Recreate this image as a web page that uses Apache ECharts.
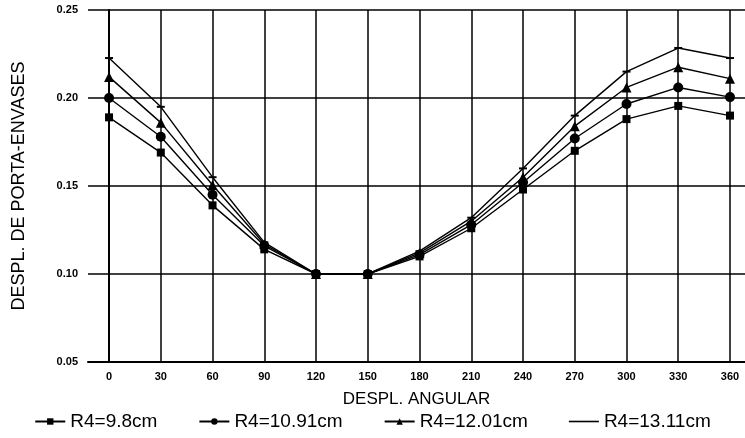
<!DOCTYPE html>
<html>
<head>
<meta charset="utf-8">
<script src="https://cdn.jsdelivr.net/npm/echarts@6/dist/echarts.min.js"></script>
<style>
  html, body { margin: 0; padding: 0; background: #fff; }
  #chart { width: 745px; height: 438px; }
</style>
</head>
<body>
<div id="chart"></div>
<script>
// angulos (grados)
var angles = [0, 30, 60, 90, 120, 150, 180, 210, 240, 270, 300, 330, 360];
var yTicks = [0.05, 0.10, 0.15, 0.20, 0.25];

var seriesNames = ['R4=9.8cm', 'R4=10.91cm', 'R4=12.01cm', 'R4=13.11cm'];
var r98 = [0.189, 0.169, 0.139, 0.114, 0.100, 0.100, 0.110, 0.126, 0.148, 0.170, 0.188, 0.1955, 0.190];
var r1091 = [0.200, 0.178, 0.145, 0.116, 0.100, 0.100, 0.111, 0.128, 0.152, 0.177, 0.1966, 0.206, 0.2005];
var r1201 = [0.212, 0.186, 0.1506, 0.117, 0.100, 0.100, 0.112, 0.130, 0.155, 0.184, 0.206, 0.2175, 0.211];
var r1311 = [0.2227, 0.195, 0.155, 0.118, 0.100, 0.100, 0.113, 0.132, 0.160, 0.190, 0.215, 0.2284, 0.2227];

(function () {
    var myechart = echarts.init(document.getElementById('chart'));

    function pairs(vals) {
        var out = [];
        for (var i = 0; i < angles.length; i++) {
            out.push([angles[i], vals[i]]);
        }
        return out;
    }

    function makeSeries(name, vals, symbol, size) {
        return {
            name: name,
            type: 'line',
            data: pairs(vals),
            symbol: symbol,
            symbolSize: size,
            showSymbol: true,
            color: '#000',
            lineStyle: { color: '#000', width: 1.4 },
            itemStyle: { color: '#000' },
            animation: false
        };
    }

    var font = 'Liberation Sans, Arial, sans-serif';

    // leyenda: la ultima serie solo lleva la linea
    var legendData = [
        { name: seriesNames[0] },
        { name: seriesNames[1] },
        { name: seriesNames[2] },
        { name: seriesNames[3], icon: 'path://M0,0L30,0L30,1.6L0,1.6Z' }
    ];

    var options = {
        backgroundColor: '#fff',
        animation: false,
        grid: { left: 88, right: 0, top: 10, bottom: 76 },
        legend: {
            bottom: 2,
            left: 'center',
            itemGap: 41,
            itemWidth: 30,
            itemHeight: 8,
            textStyle: { fontFamily: font, fontSize: 19, color: '#000' },
            data: legendData
        },
        xAxis: {
            type: 'value',
            min: -12.2,
            max: 368.7,
            name: 'DESPL. ANGULAR',
            nameLocation: 'middle',
            nameGap: 29,
            nameTextStyle: { fontFamily: font, fontSize: 17, color: '#000' },
            axisLine: { lineStyle: { color: '#000', width: 2 } },
            axisTick: { show: false, customValues: angles },
            axisLabel: {
                customValues: angles,
                fontFamily: font, fontSize: 11, fontWeight: 'bold', color: '#000', margin: 9
            },
            splitLine: { show: true, lineStyle: { color: '#000', width: 1.5 } }
        },
        yAxis: {
            type: 'value',
            min: 0.05,
            max: 0.25,
            interval: 0.05,
            name: 'DESPL. DE PORTA-ENVASES',
            nameLocation: 'middle',
            nameGap: 60,
            nameTextStyle: { fontFamily: font, fontSize: 18, color: '#000' },
            axisLine: { show: true, lineStyle: { color: '#000', width: 2 } },
            axisTick: { show: false },
            axisLabel: {
                fontFamily: font, fontSize: 11, fontWeight: 'bold', color: '#000', margin: 10,
                formatter: function (v) { return v.toFixed(2); }
            },
            splitLine: { show: true, lineStyle: { color: '#000', width: 1.5 } }
        },
        series: [
            makeSeries(seriesNames[0], r98, 'rect', 8),
            makeSeries(seriesNames[1], r1091, 'circle', 10),
            makeSeries(seriesNames[2], r1201, 'triangle', 10),
            makeSeries(seriesNames[3], r1311, 'rect', [8, 2])
        ]
    };
    myechart.setOption(options);
})();
</script>
</body>
</html>
